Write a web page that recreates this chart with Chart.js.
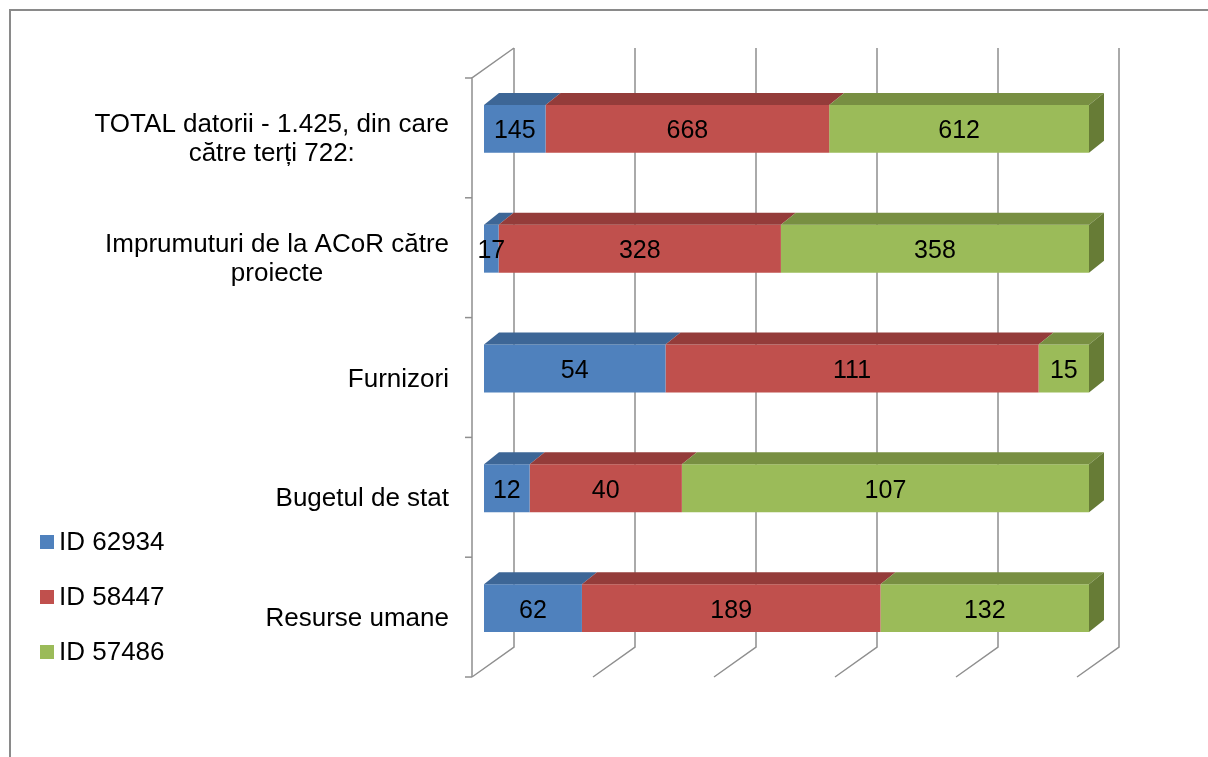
<!DOCTYPE html>
<html>
<head>
<meta charset="utf-8">
<script src="https://cdn.jsdelivr.net/npm/chart.js@4/dist/chart.umd.min.js"></script>
<style>
  html, body { margin: 0; padding: 0; background: #fff; }
  #wrap { width: 1208px; height: 757px; position: relative; }
</style>
</head>
<body>
<div id="wrap"><canvas id="c" width="1208" height="757"></canvas></div>
<script>
// date
const categories = [
  ['TOTAL datorii - 1.425, din care', 'către terți 722:'],
  ['Imprumuturi de la ACoR către', 'proiecte'],
  ['Furnizori'],
  ['Bugetul de stat'],
  ['Resurse umane']
];
const seriesNames = ['ID 62934', 'ID 58447', 'ID 57486'];
const id62934 = [145, 17, 54, 12, 62];
const id58447 = [668, 328, 111, 40, 189];
const id57486 = [612, 358, 15, 107, 132];
const xTicks = [0, 20, 40, 60, 80, 100];

const frontColors = ['#4f81bd', '#c0504d', '#9bbb59'];
const topColors = ['#3d6696', '#943c3a', '#788f42'];
const sideColor = '#677c36';
const gridColor = '#8f8f8f';
const FONT = '"Liberation Sans", Arial, sans-serif';

// procente pentru graficul 100% stivuit
const raw = [id62934, id58447, id57486];
const totals = categories.map((_, i) => raw.reduce((s, arr) => s + arr[i], 0));
const pct = raw.map(arr => arr.map((v, i) => v / totals[i] * 100));

// decalaje pentru efectul 3D
const FRONT = { dx: -12, dy: 9 };
const BACK = { dx: 30, dy: -21 };
const DEPTH = { dx: 15, dy: -12 };

const threeD = {
  id: 'threeD',
  beforeDatasetsDraw(chart) {
    const { ctx, chartArea: a, scales: { x, y } } = chart;
    ctx.save();
    ctx.strokeStyle = gridColor;
    ctx.lineWidth = 1.5;
    // perete din spate + podea
    xTicks.forEach(t => {
      const px = x.getPixelForValue(t);
      ctx.beginPath();
      ctx.moveTo(px + BACK.dx, a.top + BACK.dy);
      ctx.lineTo(px + BACK.dx, a.bottom + BACK.dy);
      ctx.lineTo(px + FRONT.dx, a.bottom + FRONT.dy);
      ctx.stroke();
    });
    // axa verticala din fata
    const x0 = x.getPixelForValue(0) + FRONT.dx;
    ctx.beginPath();
    ctx.moveTo(x.getPixelForValue(0) + BACK.dx, a.top + BACK.dy);
    ctx.lineTo(x0, a.top + FRONT.dy);
    ctx.lineTo(x0, a.bottom + FRONT.dy);
    ctx.stroke();
    const step = y.getPixelForValue(1) - y.getPixelForValue(0);
    for (let i = 0; i <= categories.length; i++) {
      const yb = y.getPixelForValue(0) - step / 2 + i * step + FRONT.dy;
      ctx.beginPath();
      ctx.moveTo(x0 - 7, yb);
      ctx.lineTo(x0, yb);
      ctx.stroke();
    }
    ctx.restore();
  },
  afterDatasetsDraw(chart) {
    const { ctx } = chart;
    ctx.save();
    const last = chart.data.datasets.length - 1;
    chart.data.datasets.forEach((ds, di) => {
      const meta = chart.getDatasetMeta(di);
      meta.data.forEach(bar => {
        const left = Math.min(bar.base, bar.x);
        const right = Math.max(bar.base, bar.x);
        const top = bar.y - bar.height / 2;
        const bottom = bar.y + bar.height / 2;
        ctx.fillStyle = topColors[di];
        ctx.beginPath();
        ctx.moveTo(left, top);
        ctx.lineTo(right, top);
        ctx.lineTo(right + DEPTH.dx, top + DEPTH.dy);
        ctx.lineTo(left + DEPTH.dx, top + DEPTH.dy);
        ctx.closePath();
        ctx.fill();
        if (di === last) {
          ctx.fillStyle = sideColor;
          ctx.beginPath();
          ctx.moveTo(right, top);
          ctx.lineTo(right + DEPTH.dx, top + DEPTH.dy);
          ctx.lineTo(right + DEPTH.dx, bottom + DEPTH.dy);
          ctx.lineTo(right, bottom);
          ctx.closePath();
          ctx.fill();
        }
      });
    });
    // etichete valori
    ctx.fillStyle = '#000';
    ctx.font = '25px ' + FONT;
    ctx.textAlign = 'center';
    ctx.textBaseline = 'alphabetic';
    chart.data.datasets.forEach((ds, di) => {
      chart.getDatasetMeta(di).data.forEach((bar, i) => {
        ctx.fillText(String(raw[di][i]), (bar.base + bar.x) / 2, bar.y + 9.5);
      });
    });
    ctx.restore();
  },
  afterDraw(chart) {
    const { ctx, scales: { y } } = chart;
    ctx.save();
    // chenar
    ctx.strokeStyle = '#8a8a8a';
    ctx.lineWidth = 2;
    ctx.strokeRect(10, 10, 1240, 800);
    // etichete categorii
    ctx.fillStyle = '#000';
    ctx.font = '26px ' + FONT;
    ctx.textAlign = 'center';
    ctx.textBaseline = 'alphabetic';
    const rightEdge = 449;
    const lh = 29;
    categories.forEach((lines, i) => {
      const w = Math.max(...lines.map(l => ctx.measureText(l).width));
      const cx = rightEdge - w / 2;
      const cy = y.getPixelForValue(i) + FRONT.dy + 9;
      lines.forEach((l, k) => {
        ctx.fillText(l, cx, cy + (k - (lines.length - 1) / 2) * lh);
      });
    });
    // legenda
    ctx.textAlign = 'left';
    seriesNames.forEach((name, k) => {
      const base = 550 + k * 55;
      ctx.fillStyle = frontColors[k];
      ctx.fillRect(40, base - 15, 14, 14);
      ctx.fillStyle = '#000';
      ctx.fillText(name, 59, base);
    });
    ctx.restore();
  }
};

new Chart(document.getElementById('c'), {
  type: 'bar',
  data: {
    labels: categories,
    datasets: seriesNames.map((name, k) => ({
      label: name,
      data: pct[k],
      backgroundColor: frontColors[k],
      borderWidth: 0,
      categoryPercentage: 1,
      barPercentage: 0.4
    }))
  },
  options: {
    indexAxis: 'y',
    responsive: false,
    animation: false,
    events: [],
    layout: { padding: { left: 484, right: 119, top: 69, bottom: 89 } },
    scales: {
      x: { stacked: true, min: 0, max: 100, display: false },
      y: { stacked: true, display: false }
    },
    plugins: { legend: { display: false }, tooltip: { enabled: false } }
  },
  plugins: [threeD]
});
</script>
</body>
</html>
